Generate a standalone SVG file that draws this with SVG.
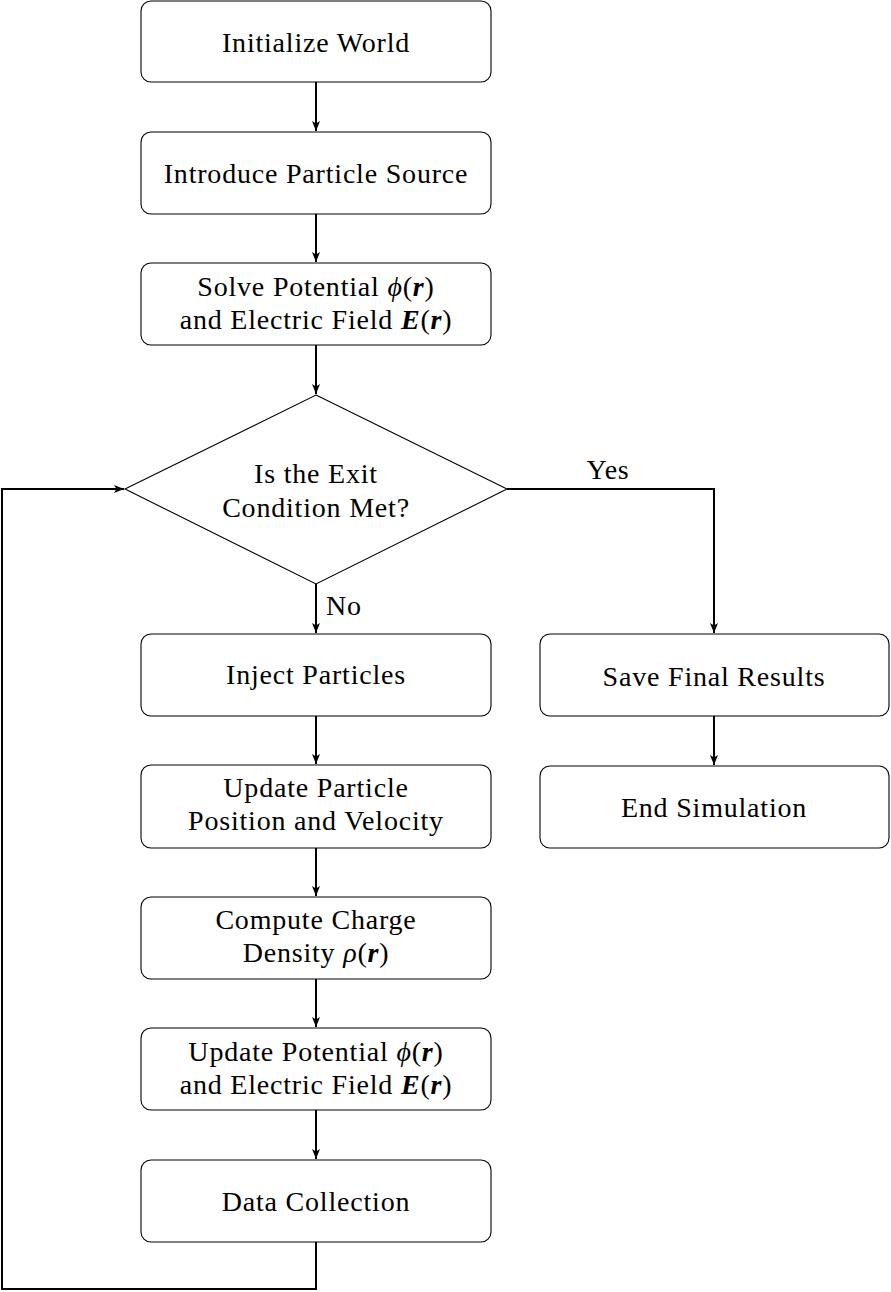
<svg xmlns="http://www.w3.org/2000/svg" width="891" height="1292" viewBox="0 0 891 1292">
<style>
.node{fill:#fff;stroke:#000;stroke-width:1.1}
.t{font-family:"Liberation Serif","DejaVu Serif",serif;font-size:28px;letter-spacing:0.8px;text-anchor:middle;fill:#000}
.m{font-style:italic}
.b{font-style:italic;font-weight:bold}
.c{fill:none;stroke:#000;stroke-width:2}
</style>
<defs>
<marker id="ah" viewBox="0 0 10 10" refX="10" refY="5" markerWidth="10" markerHeight="10" markerUnits="userSpaceOnUse" orient="auto">
<path d="M0,1 L10,5 L0,9 L2.5,5 Z" fill="#000"/>
</marker>
</defs>
<rect width="891" height="1292" fill="#fff"/>
<g id="connectors">
<line class="c" x1="316" y1="82" x2="316" y2="131" marker-end="url(#ah)"/>
<line class="c" x1="316" y1="214" x2="316" y2="262" marker-end="url(#ah)"/>
<line class="c" x1="316" y1="345" x2="316" y2="394" marker-end="url(#ah)"/>
<line class="c" x1="316" y1="584" x2="316" y2="633" marker-end="url(#ah)"/>
<line class="c" x1="316" y1="716" x2="316" y2="764" marker-end="url(#ah)"/>
<line class="c" x1="316" y1="848" x2="316" y2="896" marker-end="url(#ah)"/>
<line class="c" x1="316" y1="979" x2="316" y2="1027" marker-end="url(#ah)"/>
<line class="c" x1="316" y1="1110" x2="316" y2="1159" marker-end="url(#ah)"/>
<polyline class="c" points="316,1242 316,1289 2,1289 2,489 124,489" marker-end="url(#ah)"/>
<polyline class="c" points="507,489 714,489 714,633" marker-end="url(#ah)"/>
<line class="c" x1="714" y1="716" x2="714" y2="765" marker-end="url(#ah)"/>
<text class="t" x="608" y="479">Yes</text>
<text class="t" x="344" y="615">No</text>
</g>
<g id="initialize">
<rect class="node" x="141" y="1" width="350" height="81" rx="10"/>
<text class="t" x="316" y="52">Initialize World</text>
</g>
<g id="source">
<rect class="node" x="141" y="132" width="350" height="82" rx="10"/>
<text class="t" x="316" y="183">Introduce Particle Source</text>
</g>
<g id="solve">
<rect class="node" x="141" y="263" width="350" height="82" rx="10"/>
<text class="t" x="316" y="296">Solve Potential <tspan class="m">ϕ</tspan>(<tspan class="b">r</tspan>)</text>
<text class="t" x="316" y="329">and Electric Field <tspan class="b">E</tspan>(<tspan class="b">r</tspan>)</text>
</g>
<g id="decision">
<polygon class="node" points="316,395 507,489 316,584 125,489"/>
<text class="t" x="316" y="483">Is the Exit</text>
<text class="t" x="316" y="517">Condition Met?</text>
</g>
<g id="inject">
<rect class="node" x="141" y="634" width="350" height="82" rx="10"/>
<text class="t" x="316" y="684">Inject Particles</text>
</g>
<g id="update">
<rect class="node" x="141" y="765" width="350" height="83" rx="10"/>
<text class="t" x="316" y="797">Update Particle</text>
<text class="t" x="316" y="830">Position and Velocity</text>
</g>
<g id="charge">
<rect class="node" x="141" y="897" width="350" height="82" rx="10"/>
<text class="t" x="316" y="929">Compute Charge</text>
<text class="t" x="316" y="962">Density <tspan class="m">ρ</tspan>(<tspan class="b">r</tspan>)</text>
</g>
<g id="updatefield">
<rect class="node" x="141" y="1028" width="350" height="82" rx="10"/>
<text class="t" x="316" y="1061">Update Potential <tspan class="m">ϕ</tspan>(<tspan class="b">r</tspan>)</text>
<text class="t" x="316" y="1094">and Electric Field <tspan class="b">E</tspan>(<tspan class="b">r</tspan>)</text>
</g>
<g id="collect">
<rect class="node" x="141" y="1160" width="350" height="82" rx="10"/>
<text class="t" x="316" y="1211">Data Collection</text>
</g>
<g id="save">
<rect class="node" x="540" y="634" width="349" height="82" rx="10"/>
<text class="t" x="714" y="686">Save Final Results</text>
</g>
<g id="end">
<rect class="node" x="540" y="766" width="349" height="82" rx="10"/>
<text class="t" x="714" y="817">End Simulation</text>
</g>
</svg>
